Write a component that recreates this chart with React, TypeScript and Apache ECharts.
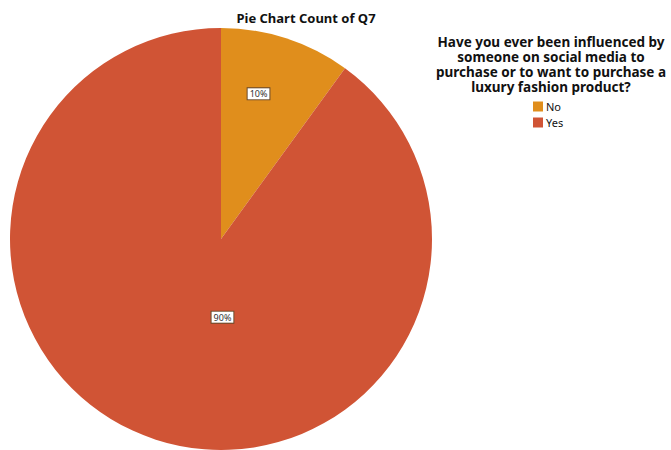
import React, { useEffect, useRef } from "react";
import * as echarts from "echarts";

const categories = ["No", "Yes"];
const values = [10, 90];
const colors = ["#E08E1C", "#D05435"];
const chartTitle = "Pie Chart Count of Q7";
const legendTitle = "Have you ever been influenced by\nsomeone on social media to\npurchase or to want to purchase a\nluxury fashion product?";
const labelNudges = [
  [4, -42],
  [35, -25],
];

export default function App() {
  const ref = useRef<HTMLDivElement>(null);
  useEffect(() => {
    document.body.style.margin = "0";
    const chart = echarts.init(ref.current!, null, { renderer: "svg" });
    const font = "'Noto Sans', 'DejaVu Sans', sans-serif";
    chart.setOption({
      animation: false,
      backgroundColor: "#ffffff",
      title: [
        {
          text: chartTitle,
          left: 301,
          top: 6,
          textAlign: "center",
          textStyle: { fontFamily: font, fontSize: 13, fontWeight: "bold", color: "#111" },
        },
        {
          text: legendTitle,
          left: 546,
          top: 29,
          textAlign: "center",
          textStyle: { fontFamily: font, fontSize: 13.5, fontWeight: "bold", color: "#111", lineHeight: 15 },
        },
      ],
      legend: {
        orient: "vertical",
        left: 528,
        top: 96,
        itemWidth: 10,
        itemHeight: 10,
        itemGap: 5,
        icon: "rect",
        data: categories,
        textStyle: { fontFamily: font, fontSize: 11, color: "#111", padding: [0, 0, 0, -2] },
      },
      series: [
        {
          type: "pie",
          center: [221, 239],
          radius: 211,
          startAngle: 90,
          clockwise: true,
          silent: true,
          label: {
            position: "inside",
            formatter: "{d}%",
            fontFamily: font,
            fontSize: 9,
            color: "#333",
            backgroundColor: "#fff",
            borderColor: "#6b4a2a",
            borderWidth: 1,
            padding: [1, 2],
          },
          labelLayout: (p: any) => {
            const n = labelNudges[p.dataIndex] || [0, 0];
            return { dx: n[0], dy: n[1] };
          },
          labelLine: { show: false },
          itemStyle: { borderWidth: 0 },
          data: categories.map((c, i) => ({ name: c, value: values[i], itemStyle: { color: colors[i] } })),
        },
      ],
    });
    return () => chart.dispose();
  }, []);
  return <div ref={ref} style={{ width: 671, height: 450 }} />;
}
